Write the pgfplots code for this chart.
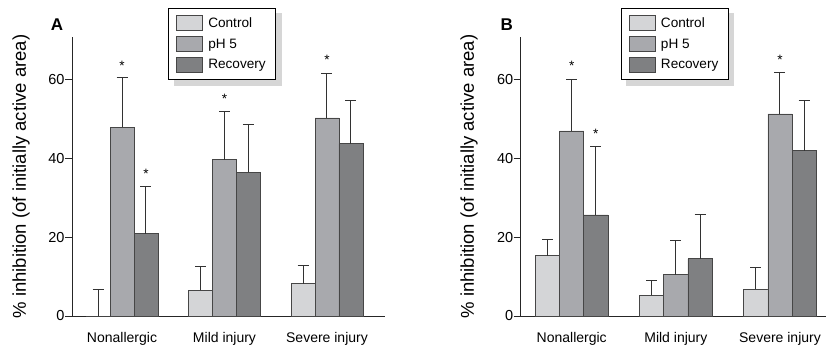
\documentclass[border=0pt]{standalone}
\usepackage{pgfplots}
\pgfplotsset{compat=1.18}
\usepackage{fontspec}
\setmainfont{Liberation Sans}
\pgfdeclarelayer{background}
\pgfsetlayers{background,main}
\definecolor{cctrl}{RGB}{212,213,215}
\definecolor{cph}{RGB}{168,169,173}
\definecolor{crec}{RGB}{127,128,130}
\definecolor{cedge}{RGB}{70,70,70}
\definecolor{cerr}{RGB}{50,50,50}
\definecolor{cshadow}{RGB}{214,214,214}
\newcommand{\fsz}{\fontsize{13.6}{16}\selectfont}
\newcommand{\fsl}{\fontsize{18.5}{20}\selectfont}
\pgfplotsset{
  panel/.style={
    scale only axis, ybar=0pt, ymin=0, ymax=70.7,
    height=279pt,
    axis x line*=bottom, axis y line*=left,
    axis line style={-, line width=1pt, black!85},
    ytick={0,20,40,60}, xtick={0,1,2},
    xticklabels={Nonallergic, Mild injury, Severe injury},
    tick align=outside, major tick length=7pt,
    y tick style={line width=1pt, black!85},
    x tick style={draw=none},
    /pgf/number format/assume math mode=true,
    tick label style={font=\fontsize{14.5}{16}\selectfont},
    xticklabel style={font=\fontsize{14}{16}\selectfont, yshift=-6pt},
    yticklabel style={xshift=3pt},
    ylabel={\% inhibition (of initially active area)},
    ylabel style={font=\fsl, anchor=center},
    clip=false,
    legend cell align=left,
    legend style={draw=black, line width=0.8pt, fill=white, font=\fsz,
      anchor=north west, row sep=5pt, inner xsep=8pt, inner ysep=7pt},
    legend image code/.code={\draw[##1, line width=0.8pt, draw=cedge] (0pt,-7.5pt) rectangle (26pt,7.5pt); \path (29pt,0pt);},
  },
  bstyle/.style={draw=cedge, line width=0.8pt,
    /pgfplots/error bars/y dir=plus, /pgfplots/error bars/y explicit,
    /pgfplots/error bars/error mark=|,
    /pgfplots/error bars/error bar style={line width=1pt, cerr},
    /pgfplots/error bars/error mark options={line width=1pt, cerr, mark size=5.5pt}},
}
\begin{document}
\begin{tikzpicture}
\useasboundingbox (0,0) rectangle (827pt,349pt);
% Panel A
\begin{axis}[panel, at={(72pt,33pt)}, anchor=south west, width=313pt,
  xmin=-0.488, xmax=2.566, bar width=0.234,
  ylabel style={at={(axis description cs:-0.163,0.5)}},
  legend style={name=legA, at={(axis description cs:0.307,1.104)}}]
\addplot[fill=cctrl, bstyle] coordinates {(0,0) +- (0,6.8) (1,6.5) +- (0,6.1) (2,8.2) +- (0,4.7)};
\addplot[fill=cph, bstyle] coordinates {(0,47.8) +- (0,12.6) (1,39.6) +- (0,12.1) (2,50.2) +- (0,11.2)};
\addplot[fill=crec, bstyle] coordinates {(0,20.9) +- (0,11.8) (1,36.4) +- (0,12.2) (2,43.7) +- (0,10.8)};
\legend{Control, pH 5, Recovery}
\node[font=\fsz] at (axis cs:0,63.3) {*};
\node[font=\fsz] at (axis cs:0.234,36.0) {*};
\node[font=\fsz] at (axis cs:1,55.0) {*};
\node[font=\fsz] at (axis cs:2,64.8) {*};
\end{axis}
\begin{pgfonlayer}{background}
\fill[cshadow] ([shift={(5.5pt,-5.5pt)}]legA.south west) rectangle ([shift={(5.5pt,-5.5pt)}]legA.north east);
\end{pgfonlayer}
\node[font=\fontsize{17}{20}\selectfont\bfseries] at (57pt,324pt) {A};
% Panel B
\begin{axis}[panel, at={(520.7pt,33pt)}, anchor=south west, width=305pt,
  xmin=-0.49, xmax=2.439, bar width=0.232,
  ylabel style={at={(axis description cs:-0.1695,0.5)}},
  legend style={name=legB, at={(axis description cs:0.328,1.104)}}]
\addplot[fill=cctrl, bstyle] coordinates {(0,15.3) +- (0,4.0) (1,5.3) +- (0,3.6) (2,6.8) +- (0,5.4)};
\addplot[fill=cph, bstyle] coordinates {(0,46.9) +- (0,13.1) (1,10.5) +- (0,8.6) (2,51.2) +- (0,10.5)};
\addplot[fill=crec, bstyle] coordinates {(0,25.6) +- (0,17.3) (1,14.5) +- (0,11.2) (2,41.9) +- (0,12.8)};
\legend{Control, pH 5, Recovery}
\node[font=\fsz] at (axis cs:0,63.3) {*};
\node[font=\fsz] at (axis cs:0.232,46.2) {*};
\node[font=\fsz] at (axis cs:2,64.9) {*};
\end{axis}
\begin{pgfonlayer}{background}
\fill[cshadow] ([shift={(5.5pt,-5.5pt)}]legB.south west) rectangle ([shift={(5.5pt,-5.5pt)}]legB.north east);
\end{pgfonlayer}
\node[font=\fontsize{17}{20}\selectfont\bfseries] at (506.7pt,324pt) {B};
\end{tikzpicture}
\end{document}
